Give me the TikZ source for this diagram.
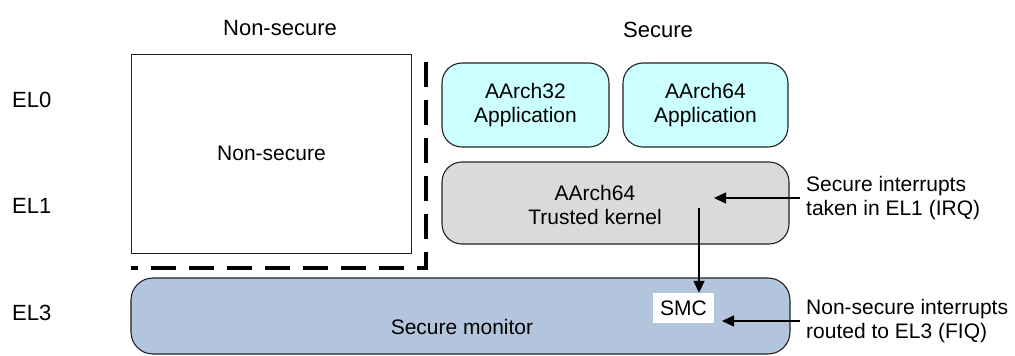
\documentclass[tikz,border=0pt]{standalone}
\usepackage{fontspec}
\setmainfont{Liberation Sans}
\usetikzlibrary{arrows.meta}
\definecolor{appfill}{HTML}{CCFFFF}
\definecolor{kernfill}{HTML}{DADADA}
\definecolor{monfill}{HTML}{B3C5DD}
\definecolor{edge}{HTML}{222222}
\begin{document}
\begin{tikzpicture}[x=1pt,y=-1pt,
  txt/.style={font=\fontsize{21}{24}\selectfont, align=center, inner sep=0pt},
  hdr/.style={font=\fontsize{22}{26}\selectfont, inner sep=0pt},
  nsbox/.style={draw=edge, line width=1pt, fill=white, txt},
  rbox/.style={draw=edge, line width=1.1pt, rounded corners=20pt, txt},
  arr/.style={draw=black, line width=1.5pt, -{Triangle[length=12pt,width=11pt]}},
  side/.style={txt, align=left, anchor=west, inner xsep=6pt, inner ysep=0pt}]
\useasboundingbox (0,0) rectangle (1015,356);
% headers
\node[hdr] (hns) at (280,28) {Non-secure};
\node[hdr] (hs) at (658,30) {Secure};
% EL labels
\node[hdr, anchor=west] (el0) at (12,100) {EL0};
\node[hdr, anchor=west] (el1) at (12,206) {EL1};
\node[hdr, anchor=west] (el3) at (12,313) {EL3};
% non-secure box
\node[nsbox, minimum width=280pt, minimum height=199pt] (ns) at (271.5,153.5) {Non-secure};
% dashed boundary
\coordinate (dtop) at (426,62);
\coordinate (dcorner) at (426,268);
\coordinate (dend) at (131,268);
\draw[line width=3.2pt, dash pattern=on 25pt off 13pt] (dtop) -- (dcorner) -- (dend);
% secure boxes
\node[rbox, fill=appfill, minimum width=167pt, minimum height=84pt] (a32) at (525.5,105) {AArch32\\Application};
\node[rbox, fill=appfill, minimum width=165pt, minimum height=84pt] (a64) at (705.5,105) {AArch64\\Application};
\node[rbox, fill=kernfill, minimum width=347pt, minimum height=82pt] (kern) at (615.5,203) {};
\node[txt] (ktext) at (595,205) {AArch64\\Trusted kernel};
% secure monitor
\node[rbox, rounded corners=22pt, fill=monfill, minimum width=659pt, minimum height=76pt] (mon) at (460.5,316) {};
\node[txt] (mtext) at (462,327) {Secure monitor};
\node[txt, fill=white, minimum width=61pt, minimum height=30pt] (smc) at (683.5,308) {SMC};
% arrows
\coordinate (kstart) at (699,208);
\draw[arr] (kstart) -- (kstart |- smc.north);
\node[side] (lab1) at (800,198) {Secure interrupts\\taken in EL1 (IRQ)};
\coordinate (tip1) at (714,198);
\draw[arr] (lab1.west) -- (tip1);
\node[side] (lab2) at (800,321) {Non-secure interrupts\\routed to EL3 (FIQ)};
\coordinate (tip2) at (722,321);
\draw[arr] (lab2.west) -- (tip2);
\end{tikzpicture}
\end{document}
